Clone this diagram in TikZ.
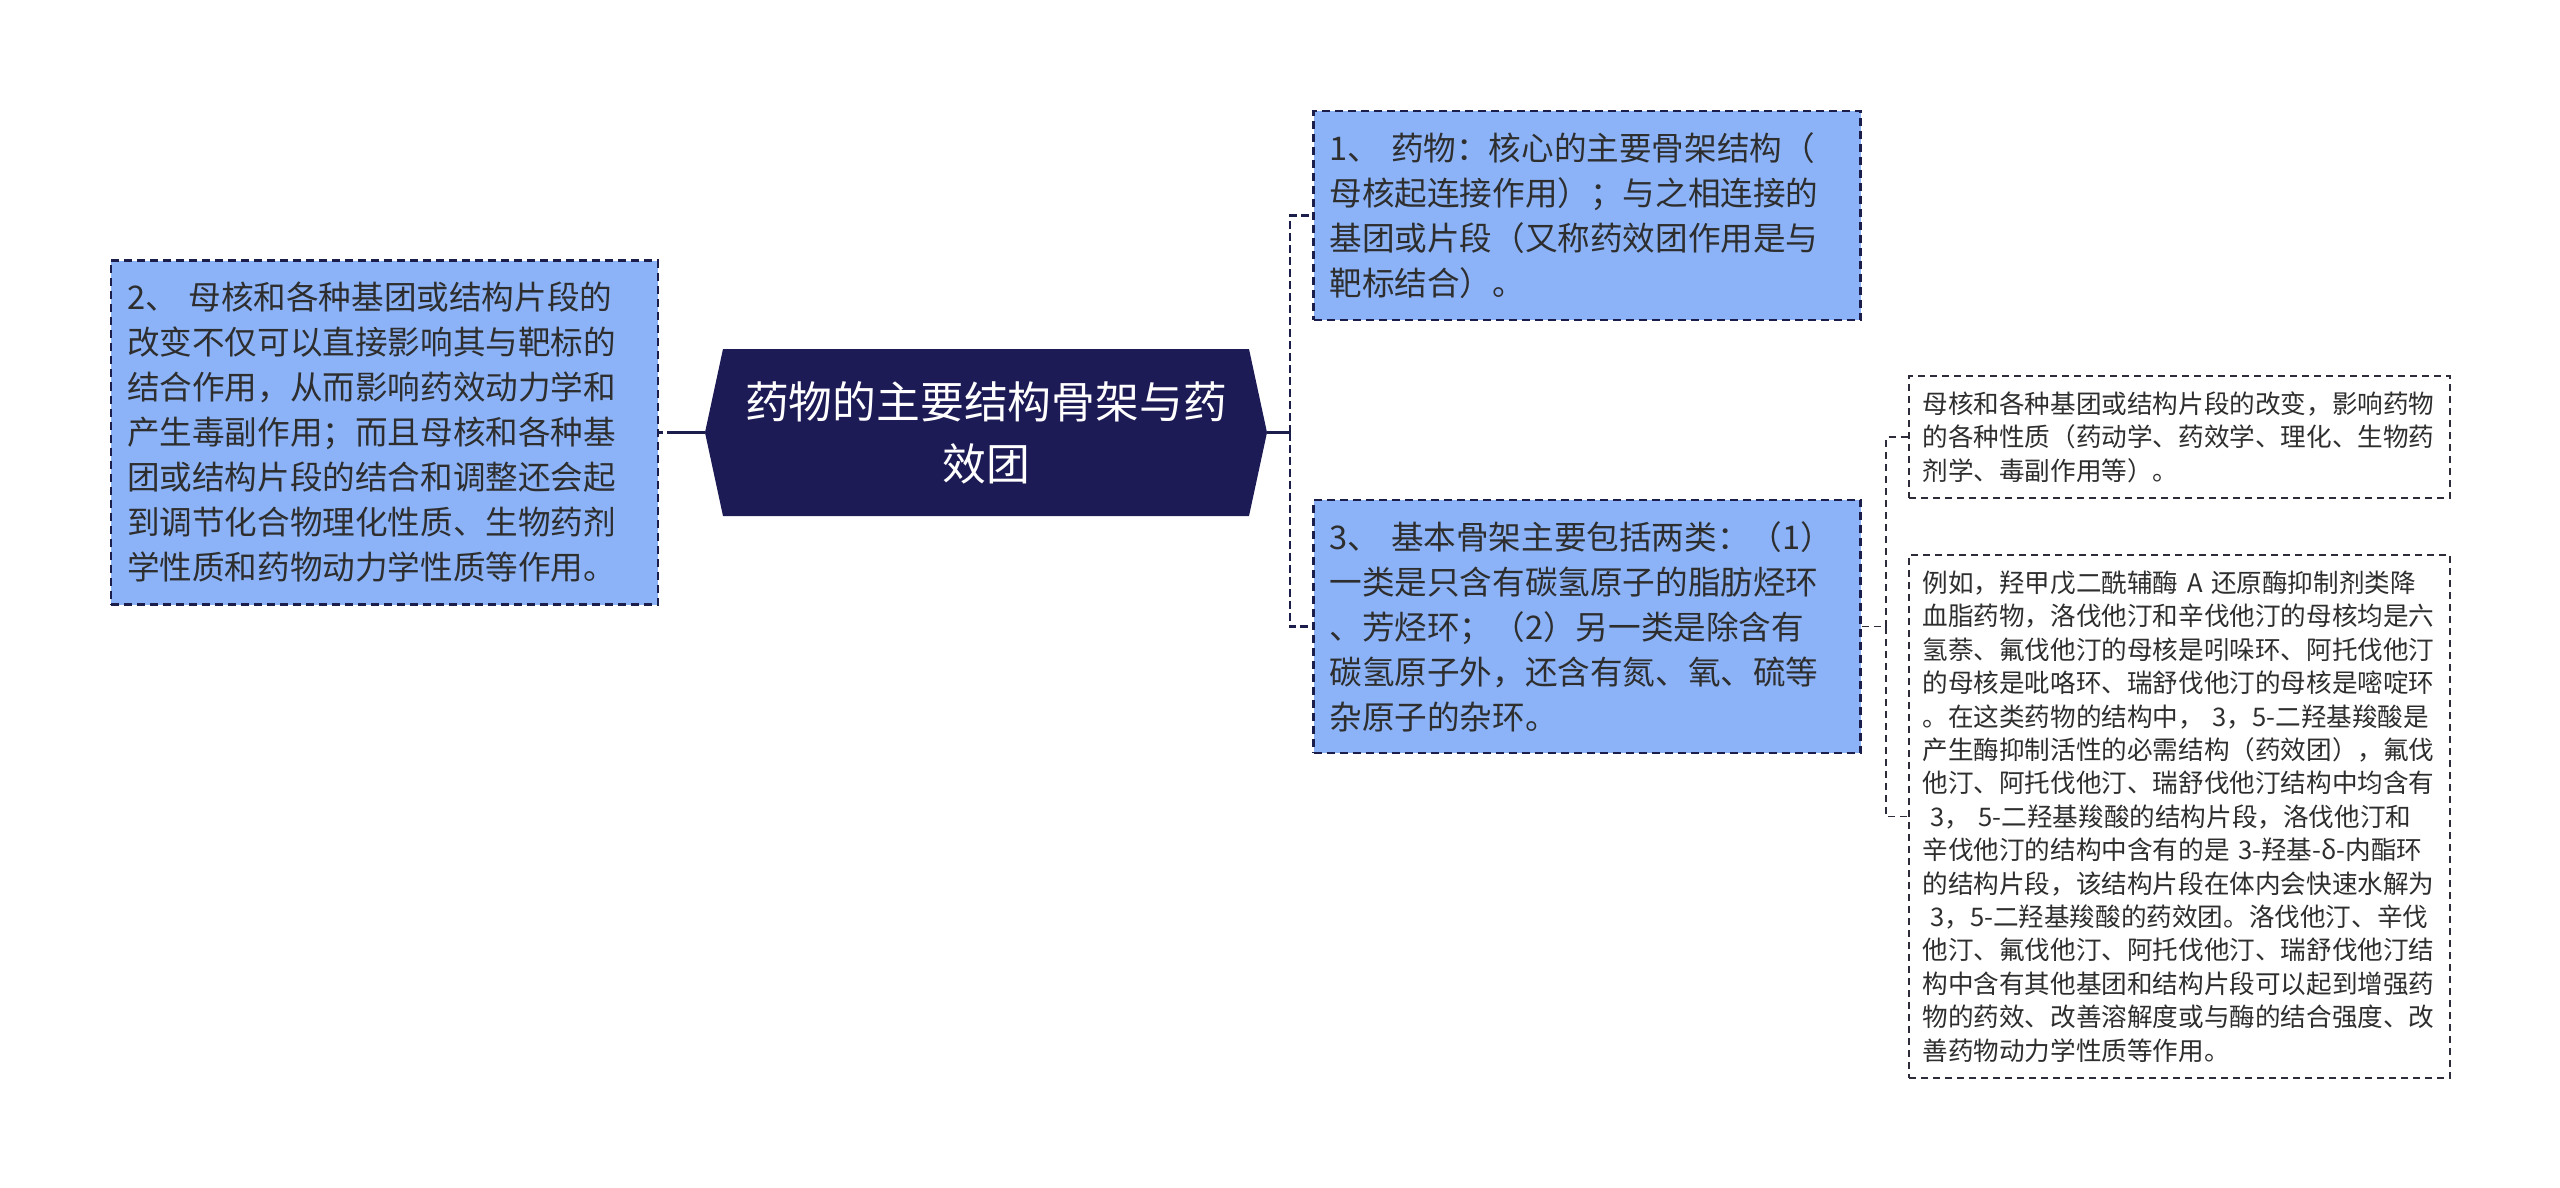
\documentclass[tikz,border=0pt]{standalone}
\usepackage{fontspec}
\newfontfamily\cjk{Noto Sans CJK SC}
\usepackage{xcolor}
\usepackage{tikz}
\usetikzlibrary{calc}
\definecolor{rootnavy}{HTML}{1D1B55}
\definecolor{topicblue}{HTML}{8CB3F8}
\definecolor{edgenavy}{HTML}{1B1D4B}
\definecolor{textgray}{HTML}{2E2E2E}
\definecolor{detailgray}{HTML}{2C2C3A}
\tikzset{central/.style={
  % The shape:
  rectangle,
  % The size:
  minimum width=281pt, minimum height=83.5pt,
  inner sep=0pt,
  % The filling (a hexagon inside the box):
  fill=white,
  path picture={\fill[rootnavy] (path picture bounding box.west)
    -- ([xshift=9pt]path picture bounding box.north west)
    -- ([xshift=-9pt]path picture bounding box.north east)
    -- (path picture bounding box.east)
    -- ([xshift=-9pt]path picture bounding box.south east)
    -- ([xshift=9pt]path picture bounding box.south west) -- cycle;},
  % Font:
  text=white, align=center,
  font=\cjk\fontsize{21.9pt}{31pt}\selectfont,
  }
}
\tikzset{topic/.style={
  % The shape:
  rectangle,
  % The size:
  text width=257.5pt, inner xsep=8pt, inner ysep=0pt,
  % The border:
  draw=edgenavy, line width=1.1pt, dash pattern=on 4pt off 2.5pt,
  % The filling:
  fill=topicblue,
  % Font:
  text=textgray, align=left,
  font=\cjk\fontsize{16.3pt}{22.5pt}\selectfont,
  }
}
\tikzset{detail/.style={
  % The shape:
  rectangle,
  % The size:
  text width=257pt, inner xsep=6.75pt, inner ysep=0pt,
  % The border:
  draw=detailgray, line width=0.9pt, dash pattern=on 3.5pt off 2.5pt,
  % The filling:
  fill=white,
  % Font:
  text=textgray, align=left,
  font=\cjk\fontsize{12.8pt}{16.7pt}\selectfont,
  }
}
\begin{document}
\begin{tikzpicture}[x=0.5pt,y=-0.5pt,
    trunk/.style={draw=edgenavy,line width=1.3pt},
    branch/.style={trunk,dash pattern=on 4pt off 2pt},
    twig/.style={draw=detailgray,line width=0.9pt,dash pattern=on 3.5pt off 2.5pt}]
  \useasboundingbox (0,0) rectangle (2560,1188);

  % Centre:
  \node (root) [central] at (986,432.5) {药物的主要结构骨架与药\\效团};

  % Left:
  \node (core) [topic,minimum height=172pt] at (384.5,432.5)
    {2、 母核和各种基团或结构片段的\\改变不仅可以直接影响其与靶标的\\结合作用，从而影响药效动力学和\\产生毒副作用；而且母核和各种基\\团或结构片段的结合和调整还会起\\到调节化合物理化性质、生物药剂\\学性质和药物动力学性质等作用。};

  % Right:
  \node (drug) [topic,minimum height=104.5pt] at (1587,215.5)
    {1、 药物：核心的主要骨架结构（\\母核起连接作用）；与之相连接的\\基团或片段（又称药效团作用是与\\靶标结合）。};
  \node (frame) [topic,minimum height=126.5pt] at (1587,626.5)
    {3、 基本骨架主要包括两类：（1）\\一类是只含有碳氢原子的脂肪烃环\\、芳烃环；（2）另一类是除含有\\碳氢原子外，还含有氮、氧、硫等\\杂原子的杂环。};

  % Details of 3:
  \node (props) [detail,minimum height=61pt] at (2179.5,437)
    {母核和各种基团或结构片段的改变，影响药物\\的各种性质（药动学、药效学、理化、生物药\\剂学、毒副作用等）。};
  \node (statin) [detail,minimum height=261.5pt] at (2179.5,816.5)
    {例如，羟甲戊二酰辅酶 A 还原酶抑制剂类降\\血脂药物，洛伐他汀和辛伐他汀的母核均是六\\氢萘、氟伐他汀的母核是吲哚环、阿托伐他汀\\的母核是吡咯环、瑞舒伐他汀的母核是嘧啶环\\。在这类药物的结构中， 3，5-二羟基羧酸是\\产生酶抑制活性的必需结构（药效团），氟伐\\他汀、阿托伐他汀、瑞舒伐他汀结构中均含有\\\hspace*{.3em}3， 5-二羟基羧酸的结构片段，洛伐他汀和\\辛伐他汀的结构中含有的是 3-羟基-δ-内酯环\\的结构片段，该结构片段在体内会快速水解为\\\hspace*{.3em}3，5-二羟基羧酸的药效团。洛伐他汀、辛伐\\他汀、氟伐他汀、阿托伐他汀、瑞舒伐他汀结\\构中含有其他基团和结构片段可以起到增强药\\物的药效、改善溶解度或与酶的结合强度、改\\善药物动力学性质等作用。};

  % Joints:
  \coordinate (lj) at (675,432.5);
  \coordinate (rj) at (1290,432.5);
  \coordinate (dj) at (1886,626.5);

  \draw[trunk]  (root.west) -- (lj);
  \draw[branch] (lj) -- (core.east);
  \draw[trunk]  (root.east) -- (rj);
  \draw[branch] (rj) |- (drug.west);
  \draw[branch] (rj) |- (frame.west);
  \draw[twig]   (frame.east) -- (dj);
  \draw[twig]   (dj) |- (props.west);
  \draw[twig]   (dj) |- (statin.west);
\end{tikzpicture}
\end{document}
